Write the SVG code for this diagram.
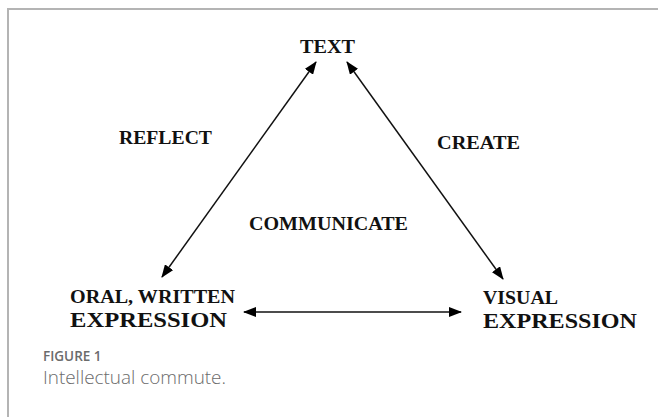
<svg xmlns="http://www.w3.org/2000/svg" width="658" height="417" viewBox="0 0 658 417">
  <defs>
    <marker id="head" viewBox="0 0 13 10" refX="12" refY="5" markerWidth="13" markerHeight="10" markerUnits="userSpaceOnUse" orient="auto-start-reverse">
      <path d="M0,0 L13,5 L0,10 Z" fill="#000"/>
    </marker>
    <style>
      .lbl { font-family: "Liberation Serif", "Times New Roman", serif; font-weight: bold; font-size: 18px; fill: #111; }
      .big { font-size: 21px; }
      .conn { stroke: #111; stroke-width: 1.5; fill: none; marker-start: url(#head); marker-end: url(#head); }
      .frame { stroke: #b4b4b4; stroke-width: 2; fill: none; }
      .figno { font-family: "Open Sans", "Noto Sans", sans-serif; font-weight: 600; font-size: 13.5px; fill: #6b6b6b; }
      .cap { font-family: "Open Sans", "Noto Sans", sans-serif; font-weight: 300; font-size: 18.5px; fill: #6b6b6b; }
    </style>
  </defs>
  <rect width="658" height="417" fill="#fff"/>
  <!-- figure frame -->
  <path class="frame" d="M8,417 V9 H658"/>

  <!-- connectors -->
  <g id="connectors">
    <line class="conn" x1="316" y1="62" x2="162" y2="277"/>
    <line class="conn" x1="347" y1="62" x2="503" y2="279"/>
    <line class="conn" x1="244" y1="312" x2="461" y2="312"/>
  </g>

  <!-- nodes -->
  <g id="node-text">
    <text class="lbl" x="300" y="53" textLength="55" lengthAdjust="spacingAndGlyphs">TEXT</text>
  </g>
  <g id="node-oral">
    <text class="lbl" x="70" y="303" textLength="165" lengthAdjust="spacingAndGlyphs">ORAL, WRITTEN</text>
    <text class="lbl big" x="70" y="327" textLength="157" lengthAdjust="spacingAndGlyphs">EXPRESSION</text>
  </g>
  <g id="node-visual">
    <text class="lbl" x="483" y="304" textLength="75" lengthAdjust="spacingAndGlyphs">VISUAL</text>
    <text class="lbl big" x="483" y="328" textLength="154" lengthAdjust="spacingAndGlyphs">EXPRESSION</text>
  </g>

  <!-- edge labels -->
  <g id="labels">
    <text class="lbl" x="119" y="144" textLength="93" lengthAdjust="spacingAndGlyphs">REFLECT</text>
    <text class="lbl" x="437" y="149" textLength="83" lengthAdjust="spacingAndGlyphs">CREATE</text>
    <text class="lbl" x="249" y="230" textLength="159" lengthAdjust="spacingAndGlyphs">COMMUNICATE</text>
  </g>

  <!-- caption -->
  <text class="figno" x="43" y="361">FIGURE 1</text>
  <text class="cap" x="43" y="384" textLength="183" lengthAdjust="spacingAndGlyphs">Intellectual commute.</text>
</svg>
